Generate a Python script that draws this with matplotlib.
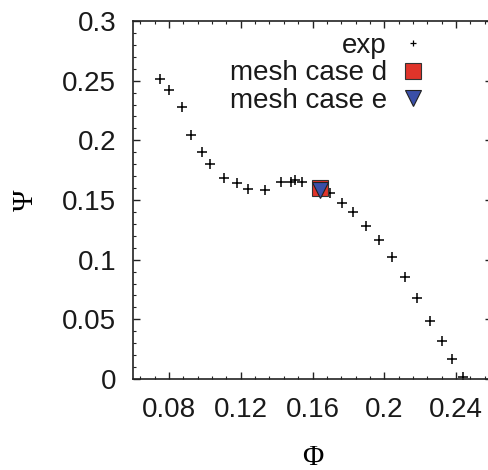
import matplotlib
matplotlib.use("Agg")
import matplotlib.pyplot as plt
from matplotlib.ticker import MultipleLocator, FuncFormatter

# experimental data (Phi, Psi)
exp_phi = [0.075, 0.080, 0.0872, 0.0921, 0.0984, 0.103, 0.1107, 0.1179, 0.1242,
           0.1334, 0.1426, 0.1482, 0.1502, 0.1540, 0.1699, 0.1766, 0.1824, 0.1898,
           0.1972, 0.2043, 0.2114, 0.2184, 0.2257, 0.2322, 0.2379, 0.2441]
exp_psi = [0.251, 0.2425, 0.228, 0.2045, 0.190, 0.180, 0.1687, 0.164, 0.159,
           0.158, 0.1653, 0.1653, 0.1668, 0.1653, 0.1561, 0.1478, 0.1402, 0.1285,
           0.1165, 0.102, 0.0857, 0.0681, 0.0489, 0.0316, 0.0168, 0.0017]
case_d_phi = [0.1642]
case_d_psi = [0.1598]
case_e_phi = [0.1642]
case_e_psi = [0.1587]

W, H = 488, 470
fig = plt.figure(figsize=(W / 100, H / 100), dpi=100)
ax = fig.add_axes([133 / W, (H - 379) / H, (492 - 133) / W, (379 - 21) / H])

ax.plot(exp_phi, exp_psi, ls='none', marker='+', ms=7, mew=1.1, color='black', label='exp')
ax.plot(case_d_phi, case_d_psi, ls='none', marker='s', ms=11, mfc='#e0342a',
        mec='#333333', mew=0.8, label='mesh case d')
ax.plot(case_e_phi, case_e_psi, ls='none', marker='v', ms=11, mfc='#3a4fa8',
        mec='#222222', mew=0.8, label='mesh case e')

ax.set_xlim(0.06, 0.26)
ax.set_ylim(0, 0.3)
ax.xaxis.set_major_locator(MultipleLocator(0.04))
ax.xaxis.set_minor_locator(MultipleLocator(0.008))
ax.yaxis.set_major_locator(MultipleLocator(0.05))
ax.yaxis.set_minor_locator(MultipleLocator(0.01))

def fmt(v, pos):
    s = ('%.3f' % v).rstrip('0').rstrip('.')
    return s
ax.xaxis.set_major_formatter(FuncFormatter(fmt))
ax.yaxis.set_major_formatter(FuncFormatter(fmt))

ax.tick_params(which='both', direction='in', top=True, right=True, colors='#222222')
ax.tick_params(which='major', length=5, width=1, labelsize=20, pad=12,
               labelcolor='#1a1a1a')
ax.tick_params(axis='x', which='major', pad=13)
ax.tick_params(which='minor', length=2.5, width=0.8)
for lab in ax.get_xticklabels() + ax.get_yticklabels():
    lab.set_fontfamily('Liberation Sans')
for sp in ax.spines.values():
    sp.set_linewidth(1.2)
    sp.set_color('#222222')

ax.set_xlabel('Φ', fontfamily='Liberation Serif', fontsize=21, labelpad=16)
ax.set_ylabel('Ψ', fontfamily='Liberation Serif', fontsize=21, labelpad=17)

leg = ax.legend(loc='upper right', bbox_to_anchor=(427 / W, (H - 33) / H),
                bbox_transform=fig.transFigure, frameon=False, markerfirst=False,
                prop={'family': 'Liberation Sans', 'size': 20}, labelspacing=0.05,
                handlelength=1.0, handletextpad=0.45, borderpad=0, borderaxespad=0)
for t in leg.get_texts():
    t.set_color('#1a1a1a')
leg.legend_handles[0].set_markersize(5)
leg.legend_handles[0].set_markeredgewidth(0.9)

fig.savefig('out.png', dpi=100)
